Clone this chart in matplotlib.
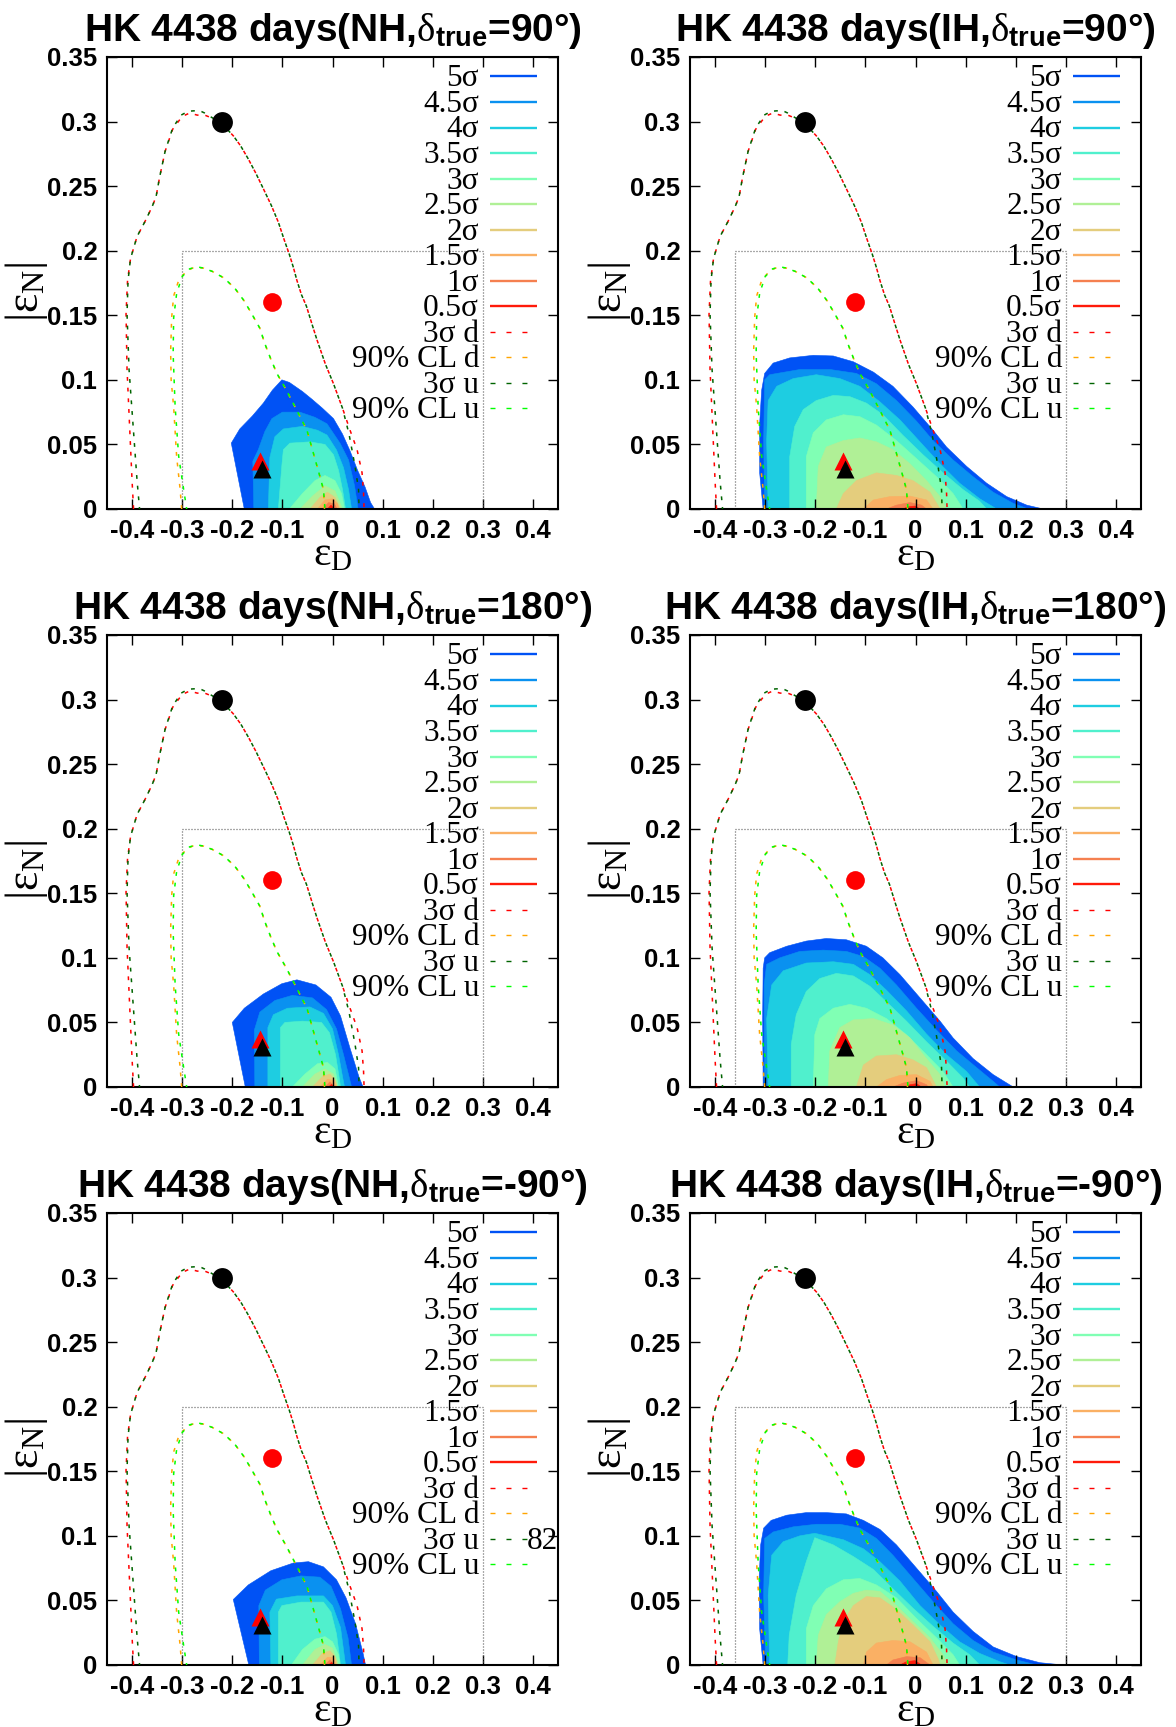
import numpy as np
import matplotlib.pyplot as plt

plt.rcParams['mathtext.fontset'] = 'custom'
plt.rcParams['mathtext.rm'] = 'Liberation Serif'
plt.rcParams['mathtext.it'] = 'Liberation Serif'
plt.rcParams['mathtext.bf'] = 'Liberation Sans:bold'

# ---- data -------------------------------------------------------------
titles = ['HK 4438 days(NH,$\\delta_{\\mathbf{true}}$=90°)',
          'HK 4438 days(IH,$\\delta_{\\mathbf{true}}$=90°)',
          'HK 4438 days(NH,$\\delta_{\\mathbf{true}}$=180°)',
          'HK 4438 days(IH,$\\delta_{\\mathbf{true}}$=180°)',
          'HK 4438 days(NH,$\\delta_{\\mathbf{true}}$=-90°)',
          'HK 4438 days(IH,$\\delta_{\\mathbf{true}}$=-90°)']

level_labels = ['5σ', '4.5σ', '4σ', '3.5σ', '3σ', '2.5σ', '2σ', '1.5σ', '1σ', '0.5σ']
level_colors = ['#0052f5', '#0a91f0', '#1ecde1', '#50f0cd', '#80ffb4',
                '#b0f096', '#e4cd7d', '#fab064', '#f58050', '#ff1a0a']

curve_labels = ['3σ d', '90% CL d', '3σ u', '90% CL u']
curve_colors = ['#ff0000', '#ffa500', '#006400', '#00ff00']

xtick_vals = [-0.4, -0.3, -0.2, -0.1, 0.0, 0.1, 0.2, 0.3, 0.4]
xtick_labels = ['-0.4', '-0.3', '-0.2', '-0.1', '0', '0.1', '0.2', '0.3', '0.4']
ytick_vals = [0, 0.05, 0.1, 0.15, 0.2, 0.25, 0.3, 0.35]
ytick_labels = ['0', '0.05', '0.1', '0.15', '0.2', '0.25', '0.3', '0.35']

# allowed-region boundaries (same for every panel)
sig3_d = [(-0.397, 0), (-0.400, 0.022), (-0.405, 0.065), (-0.410, 0.108), (-0.412, 0.151),
          (-0.409, 0.177), (-0.403, 0.194), (-0.390, 0.211), (-0.375, 0.222), (-0.360, 0.234),
          (-0.352, 0.242), (-0.345, 0.257), (-0.334, 0.277), (-0.319, 0.294), (-0.300, 0.304),
          (-0.285, 0.3066), (-0.270, 0.305), (-0.255, 0.305), (-0.236, 0.302), (-0.215, 0.296),
          (-0.198, 0.289), (-0.183, 0.281), (-0.168, 0.271), (-0.153, 0.260), (-0.138, 0.248),
          (-0.122, 0.235), (-0.108, 0.222), (-0.096, 0.208), (-0.086, 0.197), (-0.078, 0.187),
          (-0.071, 0.177), (-0.062, 0.166), (-0.052, 0.157), (-0.040, 0.142), (-0.031, 0.131),
          (-0.014, 0.112), (0.002, 0.097), (0.020, 0.078), (0.035, 0.061), (0.049, 0.046),
          (0.059, 0.028), (0.062, 0.012), (0.063, 0)]
sig3_u = [(-0.385, 0), (-0.390, 0.022), (-0.398, 0.065), (-0.406, 0.108), (-0.410, 0.151),
          (-0.408, 0.177), (-0.403, 0.194), (-0.390, 0.211), (-0.375, 0.222), (-0.360, 0.234),
          (-0.352, 0.242), (-0.345, 0.257), (-0.334, 0.277), (-0.319, 0.295), (-0.302, 0.305),
          (-0.288, 0.308), (-0.266, 0.3086), (-0.255, 0.3066), (-0.236, 0.302), (-0.215, 0.296),
          (-0.198, 0.289), (-0.183, 0.281), (-0.168, 0.271), (-0.153, 0.260), (-0.138, 0.248),
          (-0.122, 0.235), (-0.108, 0.222), (-0.096, 0.208), (-0.086, 0.197), (-0.078, 0.187),
          (-0.071, 0.177), (-0.062, 0.166), (-0.052, 0.157), (-0.040, 0.142), (-0.031, 0.131),
          (-0.014, 0.112), (0.002, 0.097), (0.020, 0.078), (0.033, 0.058), (0.045, 0.033),
          (0.052, 0.015), (0.053, 0)]
cl90_d = [(-0.301, 0), (-0.304, 0.015), (-0.311, 0.0405), (-0.317, 0.079), (-0.322, 0.100),
          (-0.323, 0.122), (-0.321, 0.148), (-0.317, 0.165), (-0.307, 0.177), (-0.292, 0.184),
          (-0.277, 0.187), (-0.258, 0.1866), (-0.240, 0.184), (-0.217, 0.179), (-0.195, 0.171),
          (-0.176, 0.161), (-0.161, 0.151), (-0.145, 0.140), (-0.135, 0.128), (-0.123, 0.116),
          (-0.111, 0.105), (-0.092, 0.092), (-0.068, 0.074), (-0.051, 0.061), (-0.038, 0.043),
          (-0.025, 0.025), (-0.018, 0.015), (-0.016, 0)]
cl90_u = [(-0.291, 0), (-0.297, 0.015), (-0.307, 0.041), (-0.314, 0.079), (-0.318, 0.120),
          (-0.317, 0.148), (-0.311, 0.167), (-0.300, 0.180), (-0.285, 0.186), (-0.270, 0.1875),
          (-0.258, 0.1866), (-0.240, 0.184), (-0.217, 0.179), (-0.195, 0.171), (-0.176, 0.161),
          (-0.161, 0.151), (-0.145, 0.140), (-0.135, 0.128), (-0.123, 0.116), (-0.111, 0.105),
          (-0.092, 0.092), (-0.068, 0.074), (-0.051, 0.061), (-0.038, 0.043), (-0.025, 0.025),
          (-0.018, 0.015), (-0.015, 0)]

# reference points: circles and triangles
circle_x = [-0.22, -0.12]
circle_y = [0.30, 0.16]
circle_colors = ['black', '#ff0000']
tri_x = [-0.145, -0.141]
tri_y = [0.037, 0.031]
tri_colors = ['#ff0000', 'black']

# dotted box: left edge for NH / IH, shared right edge and top
box_left_nh = -0.30
box_left_ih = -0.36
box_right = 0.30
box_top = 0.20

# filled confidence regions, outermost (5σ) to innermost (0.5σ)
nh90_levels = [
    [(-0.176, 0), (-0.202, 0.051), (-0.185, 0.062), (-0.160, 0.072), (-0.138, 0.082), (-0.120, 0.092),
     (-0.101, 0.100), (-0.086, 0.098), (-0.060, 0.091), (-0.041, 0.085), (-0.020, 0.078), (0.002, 0.070),
     (0.020, 0.058), (0.035, 0.045), (0.050, 0.030), (0.065, 0.017), (0.076, 0.005), (0.084, 0)],
    [(-0.157, 0), (-0.159, 0.037), (-0.148, 0.046), (-0.135, 0.060), (-0.121, 0.070), (-0.100, 0.075),
     (-0.065, 0.075), (-0.035, 0.071), (-0.011, 0.066), (0.015, 0.051), (0.032, 0.038), (0.044, 0.018),
     (0.051, 0)],
    [(-0.128, 0), (-0.125, 0.040), (-0.115, 0.056), (-0.098, 0.062), (-0.060, 0.064), (-0.030, 0.061),
     (-0.011, 0.0573), (0.008, 0.0457), (0.022, 0.032), (0.032, 0.015), (0.038, 0)],
    [(-0.108, 0), (-0.101, 0.034), (-0.098, 0.046), (-0.085, 0.051), (-0.045, 0.052), (-0.015, 0.050),
     (0.002, 0.042), (0.012, 0.030), (0.020, 0.015), (0.026, 0)],
    [(-0.086, 0), (-0.060, 0.012), (-0.035, 0.022), (-0.015, 0.026), (0.005, 0.022), (0.018, 0.012), (0.024, 0)],
    [(-0.065, 0), (-0.040, 0.010), (-0.015, 0.018), (0.005, 0.014), (0.020, 0)],
    [(-0.045, 0), (-0.025, 0.009), (-0.010, 0.013), (0.005, 0.009), (0.016, 0)],
    [(-0.030, 0), (-0.015, 0.007), (0.0, 0.008), (0.010, 0.004), (0.013, 0)],
    [(-0.020, 0), (-0.008, 0.005), (0.004, 0.004), (0.009, 0)],
    [(-0.010, 0), (-0.003, 0.003), (0.004, 0)],
]
ih90_levels = [
    [(-0.304, 0), (-0.311, 0.028), (-0.311, 0.066), (-0.307, 0.092), (-0.301, 0.105), (-0.284, 0.113),
     (-0.251, 0.117), (-0.204, 0.119), (-0.164, 0.1185), (-0.124, 0.114), (-0.084, 0.106), (-0.045, 0.095),
     (-0.005, 0.079), (0.035, 0.061), (0.062, 0.048), (0.102, 0.033), (0.142, 0.020), (0.182, 0.0096),
     (0.222, 0.003), (0.255, 0)],
    [(-0.301, 0), (-0.303, 0.053), (-0.301, 0.100), (-0.291, 0.104), (-0.231, 0.108), (-0.170, 0.108),
     (-0.118, 0.105), (-0.078, 0.097), (-0.038, 0.084), (0.002, 0.068), (0.035, 0.053), (0.075, 0.038),
     (0.115, 0.025), (0.155, 0.013), (0.195, 0.0044), (0.225, 0)],
    [(-0.294, 0), (-0.297, 0.053), (-0.294, 0.084), (-0.277, 0.095), (-0.244, 0.101), (-0.198, 0.104),
     (-0.151, 0.101), (-0.111, 0.095), (-0.071, 0.083), (-0.031, 0.069), (0.009, 0.052), (0.049, 0.035),
     (0.088, 0.020), (0.128, 0.008), (0.162, 0)],
    [(-0.251, 0), (-0.251, 0.0405), (-0.241, 0.064), (-0.224, 0.077), (-0.198, 0.084), (-0.164, 0.088),
     (-0.131, 0.087), (-0.098, 0.082), (-0.065, 0.073), (-0.025, 0.057), (0.015, 0.042), (0.055, 0.028),
     (0.095, 0.015), (0.128, 0.006), (0.142, 0)],
    [(-0.218, 0), (-0.218, 0.0405), (-0.204, 0.059), (-0.178, 0.069), (-0.144, 0.073), (-0.111, 0.0715),
     (-0.078, 0.065), (-0.038, 0.053), (0.002, 0.039), (0.042, 0.025), (0.075, 0.012), (0.095, 0)],
    [(-0.198, 0), (-0.194, 0.033), (-0.178, 0.048), (-0.144, 0.053), (-0.111, 0.055), (-0.078, 0.052),
     (-0.045, 0.046), (-0.011, 0.035), (0.022, 0.022), (0.049, 0.0096), (0.062, 0)],
    [(-0.158, 0), (-0.144, 0.012), (-0.118, 0.022), (-0.078, 0.028), (-0.038, 0.026), (-0.005, 0.022),
     (0.029, 0.013), (0.049, 0)],
    [(-0.104, 0), (-0.084, 0.007), (-0.051, 0.0096), (-0.011, 0.010), (0.022, 0.007), (0.035, 0)],
    [(-0.058, 0), (-0.038, 0.003), (-0.011, 0.005), (0.012, 0.003), (0.022, 0)],
    [(-0.025, 0), (-0.015, 0.0018), (-0.001, 0.0023), (0.009, 0)],
]
nh180_levels = [
    [(-0.174, 0), (-0.200, 0.050), (-0.176, 0.061), (-0.138, 0.072), (-0.101, 0.080), (-0.071, 0.083),
     (-0.033, 0.079), (-0.003, 0.0695), (0.016, 0.055), (0.035, 0.030), (0.053, 0.0076), (0.061, 0)],
    [(-0.155, 0), (-0.156, 0.044), (-0.145, 0.058), (-0.115, 0.067), (-0.080, 0.071), (-0.040, 0.069),
     (-0.012, 0.060), (0.008, 0.045), (0.022, 0.025), (0.033, 0.008), (0.038, 0)],
    [(-0.129, 0), (-0.129, 0.046), (-0.118, 0.056), (-0.090, 0.061), (-0.045, 0.062), (-0.018, 0.057),
     (0.0, 0.045), (0.012, 0.025), (0.020, 0.008), (0.024, 0)],
    [(-0.104, 0), (-0.104, 0.046), (-0.095, 0.050), (-0.060, 0.051), (-0.022, 0.050), (-0.006, 0.042),
     (0.006, 0.025), (0.013, 0.008), (0.016, 0)],
    [(-0.080, 0), (-0.055, 0.010), (-0.030, 0.018), (-0.010, 0.019), (0.005, 0.014), (0.012, 0)],
    [(-0.060, 0), (-0.035, 0.010), (-0.015, 0.014), (0.002, 0.010), (0.010, 0)],
    [(-0.040, 0), (-0.020, 0.008), (-0.005, 0.010), (0.006, 0.005), (0.009, 0)],
    [(-0.025, 0), (-0.010, 0.006), (0.002, 0.005), (0.007, 0)],
    [(-0.015, 0), (-0.005, 0.004), (0.005, 0)],
    [(-0.008, 0), (-0.002, 0.002), (0.003, 0)],
]
ih180_levels = [
    [(-0.304, 0), (-0.305, 0.053), (-0.304, 0.092), (-0.301, 0.100), (-0.291, 0.104), (-0.257, 0.109),
     (-0.218, 0.113), (-0.178, 0.115), (-0.138, 0.114), (-0.098, 0.109), (-0.065, 0.100), (-0.031, 0.087),
     (0.009, 0.069), (0.049, 0.051), (0.075, 0.038), (0.115, 0.022), (0.155, 0.0096), (0.195, 0)],
    [(-0.301, 0), (-0.302, 0.079), (-0.297, 0.095), (-0.271, 0.100), (-0.231, 0.105), (-0.184, 0.106),
     (-0.138, 0.105), (-0.104, 0.101), (-0.071, 0.092), (-0.038, 0.079), (0.002, 0.061), (0.042, 0.044),
     (0.082, 0.028), (0.122, 0.015), (0.155, 0.0044), (0.168, 0)],
    [(-0.294, 0), (-0.297, 0.053), (-0.287, 0.079), (-0.264, 0.090), (-0.218, 0.096), (-0.164, 0.097),
     (-0.124, 0.095), (-0.091, 0.087), (-0.058, 0.075), (-0.018, 0.059), (0.022, 0.041), (0.062, 0.025),
     (0.102, 0.012), (0.128, 0)],
    [(-0.248, 0), (-0.248, 0.033), (-0.238, 0.056), (-0.218, 0.074), (-0.191, 0.084), (-0.158, 0.088),
     (-0.124, 0.086), (-0.091, 0.078), (-0.058, 0.066), (-0.018, 0.051), (0.022, 0.035), (0.062, 0.020),
     (0.095, 0.007), (0.108, 0)],
    [(-0.204, 0), (-0.201, 0.0405), (-0.191, 0.053), (-0.164, 0.061), (-0.131, 0.064), (-0.098, 0.061),
     (-0.058, 0.053), (-0.018, 0.0405), (0.022, 0.025), (0.055, 0.012), (0.075, 0)],
    [(-0.174, 0), (-0.171, 0.028), (-0.151, 0.046), (-0.124, 0.052), (-0.084, 0.053), (-0.045, 0.048),
     (-0.011, 0.038), (0.022, 0.022), (0.049, 0.0096), (0.059, 0)],
    [(-0.118, 0), (-0.104, 0.017), (-0.078, 0.024), (-0.038, 0.025), (-0.005, 0.021), (0.022, 0.015),
     (0.042, 0)],
    [(-0.078, 0), (-0.058, 0.0057), (-0.031, 0.009), (0.002, 0.0096), (0.029, 0.0044), (0.035, 0)],
    [(-0.045, 0), (-0.025, 0.003), (0.002, 0.005), (0.022, 0.0018), (0.025, 0)],
    [(-0.021, 0), (-0.011, 0.0018), (0.002, 0.0026), (0.012, 0)],
]
nhm90_levels = [
    [(-0.167, 0), (-0.198, 0.0507), (-0.168, 0.062), (-0.123, 0.073), (-0.078, 0.079), (-0.048, 0.080),
     (-0.018, 0.076), (0.008, 0.066), (0.027, 0.052), (0.046, 0.032), (0.061, 0.009), (0.066, 0)],
    [(-0.146, 0), (-0.147, 0.046), (-0.134, 0.058), (-0.101, 0.066), (-0.063, 0.069), (-0.025, 0.068),
     (-0.003, 0.061), (0.016, 0.0435), (0.031, 0.021), (0.038, 0)],
    [(-0.123, 0), (-0.125, 0.041), (-0.112, 0.051), (-0.071, 0.0535), (-0.018, 0.0535), (0.0, 0.046),
     (0.016, 0.029), (0.026, 0)],
    [(-0.108, 0), (-0.108, 0.041), (-0.101, 0.046), (-0.063, 0.0487), (-0.018, 0.0487), (-0.003, 0.041),
     (0.008, 0.024), (0.016, 0)],
    [(-0.082, 0), (-0.060, 0.012), (-0.035, 0.020), (-0.015, 0.022), (0.0, 0.018), (0.012, 0.008), (0.015, 0)],
    [(-0.060, 0), (-0.035, 0.012), (-0.015, 0.016), (0.0, 0.013), (0.012, 0)],
    [(-0.040, 0), (-0.020, 0.009), (-0.005, 0.011), (0.006, 0.006), (0.009, 0)],
    [(-0.025, 0), (-0.010, 0.006), (0.002, 0.006), (0.007, 0)],
    [(-0.015, 0), (-0.005, 0.004), (0.005, 0)],
    [(-0.008, 0), (-0.002, 0.002), (0.003, 0)],
]
ihm90_levels = [
    [(-0.304, 0), (-0.311, 0.028), (-0.312, 0.067), (-0.309, 0.093), (-0.303, 0.106), (-0.288, 0.112),
     (-0.257, 0.116), (-0.218, 0.118), (-0.178, 0.118), (-0.138, 0.117), (-0.104, 0.112), (-0.071, 0.105),
     (-0.038, 0.093), (0.002, 0.075), (0.042, 0.057), (0.075, 0.041), (0.115, 0.026), (0.155, 0.014),
     (0.202, 0.0065), (0.248, 0.0018), (0.295, 0)],
    [(-0.299, 0), (-0.303, 0.054), (-0.301, 0.098), (-0.284, 0.103), (-0.244, 0.107), (-0.198, 0.109),
     (-0.151, 0.109), (-0.111, 0.106), (-0.078, 0.098), (-0.045, 0.085), (-0.005, 0.067), (0.035, 0.049),
     (0.075, 0.032), (0.115, 0.019), (0.155, 0.010), (0.202, 0.0039), (0.242, 0)],
    [(-0.291, 0), (-0.294, 0.054), (-0.287, 0.085), (-0.264, 0.0955), (-0.231, 0.100), (-0.201, 0.102),
     (-0.144, 0.097), (-0.104, 0.090), (-0.071, 0.080), (-0.031, 0.065), (0.009, 0.046), (0.049, 0.031),
     (0.088, 0.018), (0.128, 0.009), (0.168, 0.0026), (0.188, 0)],
    [(-0.255, 0), (-0.252, 0.023), (-0.238, 0.054), (-0.218, 0.080), (-0.201, 0.0986), (-0.164, 0.093),
     (-0.124, 0.084), (-0.084, 0.074), (-0.045, 0.059), (-0.005, 0.044), (0.035, 0.030), (0.075, 0.017),
     (0.108, 0.008), (0.128, 0)],
    [(-0.218, 0), (-0.218, 0.028), (-0.204, 0.046), (-0.178, 0.059), (-0.144, 0.066), (-0.111, 0.067),
     (-0.078, 0.062), (-0.038, 0.052), (0.002, 0.036), (0.042, 0.021), (0.075, 0.008), (0.088, 0)],
    [(-0.198, 0), (-0.194, 0.023), (-0.178, 0.039), (-0.151, 0.049), (-0.124, 0.0555), (-0.098, 0.058),
     (-0.071, 0.057), (-0.038, 0.046), (-0.005, 0.0336), (0.029, 0.021), (0.055, 0.008), (0.065, 0)],
    [(-0.161, 0), (-0.154, 0.018), (-0.144, 0.0336), (-0.124, 0.046), (-0.098, 0.053), (-0.071, 0.052),
     (-0.038, 0.043), (-0.005, 0.031), (0.029, 0.018), (0.045, 0.005), (0.049, 0)],
    [(-0.104, 0), (-0.098, 0.010), (-0.078, 0.017), (-0.045, 0.019), (-0.011, 0.018), (0.022, 0.010),
     (0.035, 0)],
    [(-0.058, 0), (-0.045, 0.0039), (-0.018, 0.0065), (0.009, 0.0057), (0.029, 0)],
    [(-0.031, 0), (-0.018, 0.0026), (-0.001, 0.0034), (0.012, 0)],
]

panel_levels = [nh90_levels, ih90_levels, nh180_levels, ih180_levels, nhm90_levels, ihm90_levels]
panel_box_left = [box_left_nh, box_left_ih, box_left_nh, box_left_ih, box_left_nh, box_left_ih]

# ---- layout -----------------------------------------------------------
W, H = 1176, 1727
fig = plt.figure(figsize=(W / 100, H / 100), dpi=100)
col_left = [107, 690]
row_top = [57, 635, 1213]
ax_w, ax_h = 451, 452
key_size = 22.5


def draw_panel(ax, title, levels, box_left, note=None):
    # stacked filled contours, largest first
    for pts, col in zip(levels, level_colors):
        xs, ys = zip(*pts)
        ax.fill(xs, ys, color=col, lw=0.4, ec=col, zorder=1)

    ax.plot([box_left, box_left, box_right, box_right], [0, box_top, box_top, 0],
            color='#555555', lw=0.9, ls=(0, (0.8, 1.6)), zorder=2)

    for pts, col, off in zip([sig3_d, cl90_d, sig3_u, cl90_u], curve_colors, [0, 0, 1.2, 1.2]):
        xs, ys = zip(*pts)
        ax.plot(xs, ys, color=col, lw=1.1, ls=(off, (2.5, 4.5)), zorder=3)

    for x, y, c, ms in zip(circle_x, circle_y, circle_colors, [15, 13.5]):
        ax.plot(x, y, 'o', color=c, ms=ms, mec='none', zorder=4)
    for x, y, c in zip(tri_x, tri_y, tri_colors):
        ax.plot(x, y, '^', color=c, ms=13.5, mec='none', zorder=4)

    # key drawn by hand: entries overlap like the gnuplot key
    for i, lab in enumerate(level_labels + curve_labels):
        yk = 0.957 - i * 0.0565
        ax.text(0.825, yk - 0.022, lab, transform=ax.transAxes, ha='right', va='baseline',
                family='Liberation Serif', fontsize=key_size, zorder=6)
        if i < len(level_labels):
            ax.plot([0.849, 0.954], [yk, yk], transform=ax.transAxes, color=level_colors[i],
                    lw=1.7, solid_capstyle='butt', zorder=6)
        else:
            ax.plot([0.849, 0.931], [yk, yk], transform=ax.transAxes,
                    color=curve_colors[i - len(level_labels)], lw=1.0,
                    ls=(0, (3.6, 7.9)), zorder=6)
        if note is not None and lab == note[0]:
            ax.text(0.93, yk - 0.022, note[1], transform=ax.transAxes, ha='left', va='baseline',
                    family='Liberation Serif', fontsize=key_size, zorder=6)

    ax.set_xlim(-0.45, 0.45)
    ax.set_ylim(0, 0.35)
    ax.set_xticks(xtick_vals)
    ax.set_xticklabels(xtick_labels, family='Liberation Sans', fontweight='bold', fontsize=18.5)
    ax.set_yticks(ytick_vals)
    ax.set_yticklabels(ytick_labels, family='Liberation Sans', fontweight='bold', fontsize=18.5)
    ax.tick_params(direction='in', length=7, width=1, top=True, right=True, pad=7)
    for sp in ax.spines.values():
        sp.set_linewidth(1.5)

    ax.text(0.5, 1.036, title, transform=ax.transAxes, ha='center', va='baseline',
            family='Liberation Sans', fontweight='bold', fontsize=28)
    ax.text(0.5, -0.097, r'$\varepsilon_{\rm D}$', transform=ax.transAxes, ha='center',
            va='center', fontsize=30)
    ax.text(-0.178, 0.48, r'$|\varepsilon_{\rm N}|$', transform=ax.transAxes, ha='center',
            va='center', rotation=90, fontsize=33)


for k in range(6):
    r, c = divmod(k, 2)
    ax = fig.add_axes([col_left[c] / W, 1 - (row_top[r] + ax_h) / H, ax_w / W, ax_h / H])
    note = ('3σ u', '82') if k == 4 else None
    draw_panel(ax, titles[k], panel_levels[k], panel_box_left[k], note)

fig.savefig('out.png', dpi=100)
